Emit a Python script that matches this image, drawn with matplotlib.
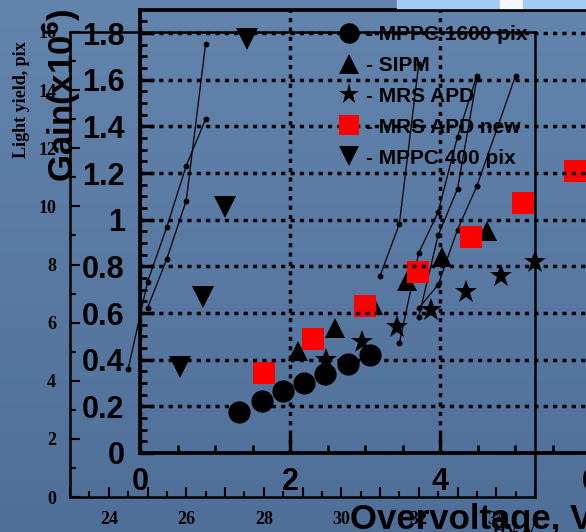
import numpy as np
import matplotlib
matplotlib.use('Agg')
import matplotlib.pyplot as plt
from matplotlib.ticker import MultipleLocator, FuncFormatter
from matplotlib.patches import Rectangle

plt.rcParams['mathtext.fontset'] = 'custom'
plt.rcParams['mathtext.bf'] = 'Liberation Sans:bold'
plt.rcParams['mathtext.rm'] = 'Liberation Sans:bold'

# back chart: light yield (pix) vs HV (V)
hv_a1 = [24.5, 25.0, 25.5, 26.0, 26.5]
ly_a1 = [4.4, 7.4, 9.3, 11.4, 13.0]
hv_a2 = [25.0, 25.5, 26.0, 26.5]
ly_a2 = [6.5, 8.2, 10.2, 15.6]
hv_b = [31.0, 31.5, 32.0]
ly_b = [7.6, 9.4, 14.9]
hv_c1 = [31.5, 32.0, 32.5, 33.0, 33.5]
ly_c1 = [5.3, 8.4, 9.8, 12.4, 14.5]
hv_c2 = [32.0, 32.5, 33.0, 33.5]
ly_c2 = [6.2, 9.0, 10.6, 14.4]
hv_c3 = [32.0, 32.5, 33.0, 33.5, 34.5]
ly_c3 = [6.5, 7.3, 9.2, 10.7, 14.5]
back_curves = [(hv_a1, ly_a1), (hv_a2, ly_a2), (hv_b, ly_b),
               (hv_c1, ly_c1), (hv_c2, ly_c2), (hv_c3, ly_c3)]

# front chart: gain (x10^6) vs overvoltage (V)
ov_mppc1600 = [1.32, 1.63, 1.91, 2.19, 2.47, 2.77, 3.07]
g_mppc1600 = [0.176, 0.223, 0.266, 0.30, 0.338, 0.381, 0.42]
ov_sipm = [2.11, 2.60, 3.10, 3.56, 4.03, 4.63]
g_sipm = [0.437, 0.536, 0.634, 0.737, 0.84, 0.95]
ov_mrs = [2.48, 2.96, 3.43, 3.88, 4.35, 4.81, 5.27]
g_mrs = [0.40, 0.476, 0.54, 0.613, 0.69, 0.76, 0.82]
ov_mrs_new = [1.65, 2.31, 3.0, 3.71, 4.41, 5.11, 5.8]
g_mrs_new = [0.342, 0.487, 0.63, 0.776, 0.927, 1.07, 1.21]
ov_mppc400 = [0.53, 0.84, 1.13, 1.42]
g_mppc400 = [0.369, 0.668, 1.054, 1.774]

W, H = 586, 532
fig = plt.figure(figsize=(W / 100, H / 100), dpi=100)

# blue backdrop
bg = fig.add_axes([0, 0, 1, 1], zorder=-10)
top = np.array([0x63, 0x84, 0xac]) / 255
bot = np.array([0x4f, 0x6f, 0x99]) / 255
t = np.linspace(0, 1, 200)[:, None, None]
bg.imshow(top * (1 - t) + bot * t, aspect='auto', extent=[0, 1, 0, 1])
bg.axis('off')
fig.patches.append(Rectangle((397 / W, 1 - 8 / H), 103 / W, 8 / H,
                             transform=fig.transFigure, color='#a2cdf5', zorder=5))
fig.patches.append(Rectangle((500 / W, 1 - 8 / H), 23 / W, 8 / H,
                             transform=fig.transFigure, color='#f4f8fc', zorder=5))
fig.patches.append(Rectangle((523 / W, 1 - 8 / H), 63 / W, 8 / H,
                             transform=fig.transFigure, color='#a2cdf5', zorder=5))

serif = 'Liberation Serif'
sans = 'Liberation Sans'

# ---- back chart
ax1 = fig.add_axes([70 / W, (H - 497) / H, 465 / W, 465 / H], zorder=1)
ax1.set_facecolor('none')
for hv, ly in back_curves:
    ax1.plot(hv, ly, color='black', lw=0.9, marker='o', ms=3.2)
ax1.set_xlim(23, 35)
ax1.set_ylim(0, 16)
for s in ax1.spines.values():
    s.set_linewidth(1.8)
even = FuncFormatter(lambda v, p: f'{v:.0f}' if round(v) % 2 == 0 else '')
ax1.xaxis.set_major_locator(MultipleLocator(1))
ax1.xaxis.set_minor_locator(MultipleLocator(0.5))
ax1.xaxis.set_major_formatter(even)
ax1.yaxis.set_major_locator(MultipleLocator(2))
ax1.yaxis.set_minor_locator(MultipleLocator(1))
ax1.tick_params(which='both', direction='in', top=False, right=False, width=1.5)
ax1.tick_params(which='major', length=7)
ax1.tick_params(which='minor', length=4.5)
ax1.tick_params(axis='x', pad=10)
ax1.tick_params(axis='y', pad=10)
for lab in ax1.get_xticklabels() + ax1.get_yticklabels():
    lab.set_fontfamily(serif)
    lab.set_fontweight('bold')
    lab.set_fontsize(13)

fig.text(22 / W, 1 - 100 / H, 'Light yield, pix', rotation=90, ha='center', va='center',
         family=serif, weight='bold', size=13, zorder=2)
fig.text(514 / W, 1 - 531 / H, 'HV, V', ha='center', va='center',
         family=serif, weight='bold', size=12, zorder=2)

# ---- front chart
ax2 = fig.add_axes([140 / W, (H - 453) / H, 600 / W, 443 / H], zorder=2)
ax2.set_facecolor('none')
ax2.plot(ov_mppc1600, g_mppc1600, 'o', color='black', ms=16, mew=0, label='- MPPC 1600 pix')
ax2.plot(ov_sipm, g_sipm, '^', color='black', ms=15, mew=0, label='- SIPM')
ax2.plot(ov_mrs, g_mrs, '*', color='black', ms=17, mew=0, label='- MRS APD')
ax2.plot(ov_mrs_new, g_mrs_new, 's', color='#ff0000', ms=16, mew=0, label='- MRS APD new')
ax2.plot(ov_mppc400, g_mppc400, 'v', color='black', ms=16, mew=0, label='- MPPC 400 pix')
ax2.set_xlim(0, 8)
ax2.set_ylim(0, 443 / 233.3)
for s in ax2.spines.values():
    s.set_linewidth(2.7)
ax2.xaxis.set_major_locator(MultipleLocator(2))
ax2.xaxis.set_minor_locator(MultipleLocator(0.5))
ax2.yaxis.set_major_locator(MultipleLocator(0.2))
ax2.yaxis.set_minor_locator(MultipleLocator(0.05))
fmt = FuncFormatter(lambda v, p: f'{round(v, 2):g}')
ax2.xaxis.set_major_formatter(fmt)
ax2.yaxis.set_major_formatter(fmt)
ax2.tick_params(which='both', direction='in', top=False, right=False)
ax2.tick_params(axis='x', which='major', length=14, width=2.4, pad=10)
ax2.tick_params(axis='x', which='minor', length=6, width=2)
ax2.tick_params(axis='y', which='major', length=10, width=2.4, pad=11)
ax2.tick_params(axis='y', which='minor', length=5, width=2)
for lab in ax2.get_xticklabels() + ax2.get_yticklabels():
    lab.set_fontfamily(sans)
    lab.set_fontweight('bold')
    lab.set_fontsize(22)
ax2.grid(True, which='major', color='black', lw=2.5, ls=(0, (1.2, 1.5)))
ax2.set_axisbelow(False)

leg = ax2.legend(loc='upper left', bbox_to_anchor=(339 / W, 1 - 25 / H),
                 bbox_transform=fig.transFigure, frameon=False, handlelength=1.0,
                 handletextpad=0.3, borderpad=0, borderaxespad=0, labelspacing=0.57,
                 markerscale=0.92, prop={'family': sans, 'weight': 'bold', 'size': 15})

fig.text(62 / W, 1 - 182 / H, 'Gain(x10$^{\\mathbf{6}}$)', rotation=90, ha='center',
         va='bottom', family=sans, weight='bold', size=25, zorder=4)
fig.text(350 / W, 1 - 529 / H, 'Overvoltage, V', ha='left', va='baseline',
         family=sans, weight='bold', size=25, zorder=4)

fig.savefig('out.png', dpi=100)
